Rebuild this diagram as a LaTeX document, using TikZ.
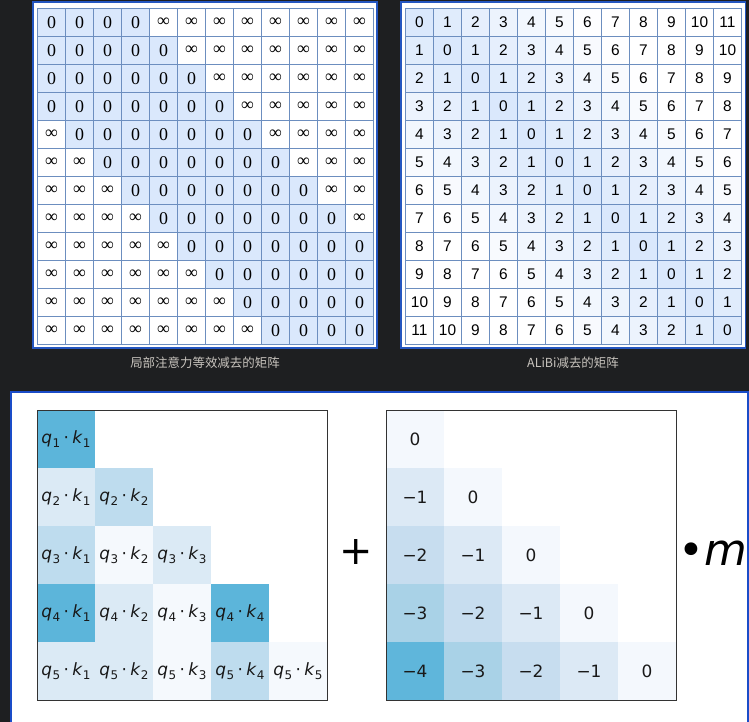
\documentclass[tikz,border=0pt]{standalone}
\usepackage{fontspec}
\setmainfont{Liberation Serif}
\newfontfamily\arialfont{Liberation Sans}
\newfontfamily\dejavu{DejaVu Sans}
\newfontfamily\cjkfont{Noto Sans CJK SC}
\definecolor{darkbg}{HTML}{1E1F21}
\definecolor{panelblue}{HTML}{1A4CC8}
\definecolor{frameblue}{HTML}{2456C0}
\definecolor{gridline}{HTML}{6C8EBF}
\definecolor{cellblue}{HTML}{DAE8FC}
\definecolor{captiongray}{HTML}{C8C4BE}
\definecolor{framegray}{HTML}{333333}
\definecolor{qkdeep}{HTML}{5CB5DA}
\definecolor{qkmid}{HTML}{BEDCEE}
\definecolor{qklight}{HTML}{DBEAF5}
\definecolor{qkpale}{HTML}{F5F9FD}
\definecolor{bias0}{HTML}{F4F8FD}
\definecolor{bias1}{HTML}{DCE9F5}
\definecolor{bias2}{HTML}{C7DDEF}
\definecolor{bias3}{HTML}{A9D2E7}
\definecolor{bias4}{HTML}{5FB6DB}
\newcommand{\qk}[2]{\textit{q}\kern0.3pt\raisebox{-0.2em}{\fontsize{12}{12}\selectfont #1}\hspace{0.2em}·\hspace{0.2em}\textit{k}\kern0.3pt\raisebox{-0.2em}{\fontsize{12}{12}\selectfont #2}}

\begin{document}
\begin{tikzpicture}[x=1bp,y=-1bp]
  \tikzstyle{cell}=[draw=gridline,line width=1.3bp,minimum size=28bp,inner sep=0pt]
  \tikzstyle{heat}=[minimum size=58bp,inner sep=0pt,text=black!90]
  \tikzstyle{caption}=[text=captiongray,font=\cjkfont\fontsize{12.5}{14}\selectfont]
  \useasboundingbox (0,0) rectangle (749,722);
  \fill [darkbg] (0,0) rectangle (749,722);
  \filldraw [fill=white,draw=panelblue,line width=1.5bp] (11,392) -- (748,392) -- (748,726) -- (11,726) -- cycle;
  % local attention window
  \filldraw [fill=white,draw=frameblue,line width=1.5bp] (33,2) rectangle (377,348);
  \foreach \i in {0,...,11} {
    \foreach \j in {0,...,11} {
      \pgfmathtruncatemacro\dist{abs(\i-\j)}
      \pgfmathtruncatemacro\shade{\dist>3 ? 0 : 100}
      \node [cell,fill=cellblue!\shade!white,font=\fontsize{18}{18}\selectfont] (w-\i-\j) at (51.5+28*\j,22.5+28*\i) {\ifnum\dist>3 ∞\else 0\fi};
    }
  }
  \node [caption] (wcap) at (205,363) {局部注意力等效减去的矩阵};
  % alibi distances
  \filldraw [fill=white,draw=frameblue,line width=1.5bp] (401,2) rectangle (745.5,348);
  \foreach \i in {0,...,11} {
    \foreach \j in {0,...,11} {
      \pgfmathtruncatemacro\dist{abs(\i-\j)}
      \pgfmathtruncatemacro\shade{max(0,100-16*\dist)}
      \node [cell,fill=cellblue!\shade!white,font=\arialfont\fontsize{15.5}{16}\selectfont] (a-\i-\j) at (419.5+28*\j,22.5+28*\i) {\dist};
    }
  }
  \node [caption] (acap) at (573,363) {ALiBi减去的矩阵};
  % scores
  \foreach \r/\c/\tone in {1/1/qkdeep,2/1/qklight,2/2/qkmid,3/1/qkmid,3/2/qkpale,3/3/qklight,
      4/1/qkdeep,4/2/qklight,4/3/qkpale,4/4/qkdeep,5/1/qklight,5/2/qklight,5/3/qkpale,5/4/qkmid,5/5/qkpale}
    \node [heat,fill=\tone,font=\dejavu\fontsize{17}{17}\selectfont] (s-\r-\c) at (8+58*\c,381+58*\r) {\qk{\r}{\c}};
  \draw [framegray,line width=1bp] (37,410) rectangle (327,700);
  \node [font=\dejavu\fontsize{40}{40}\selectfont] (plus) at (356,552) {+};
  % bias
  \foreach \r in {1,...,5} {
    \foreach \c in {1,...,\r} {
      \pgfmathtruncatemacro\gap{\r-\c}
      \node [heat,fill=bias\gap,font=\dejavu\fontsize{17}{17}\selectfont] (b-\r-\c) at (357+58*\c,381+58*\r) {\ifnum\gap>0 −\gap\else 0\fi};
    }
  }
  \draw [framegray,line width=1bp] (386,410) rectangle (676,700);
  \node [anchor=base west,inner sep=0pt,font=\dejavu\fontsize{44}{44}\selectfont] (slope) at (678,565) {•\textit{m}};
\end{tikzpicture}
\end{document}
